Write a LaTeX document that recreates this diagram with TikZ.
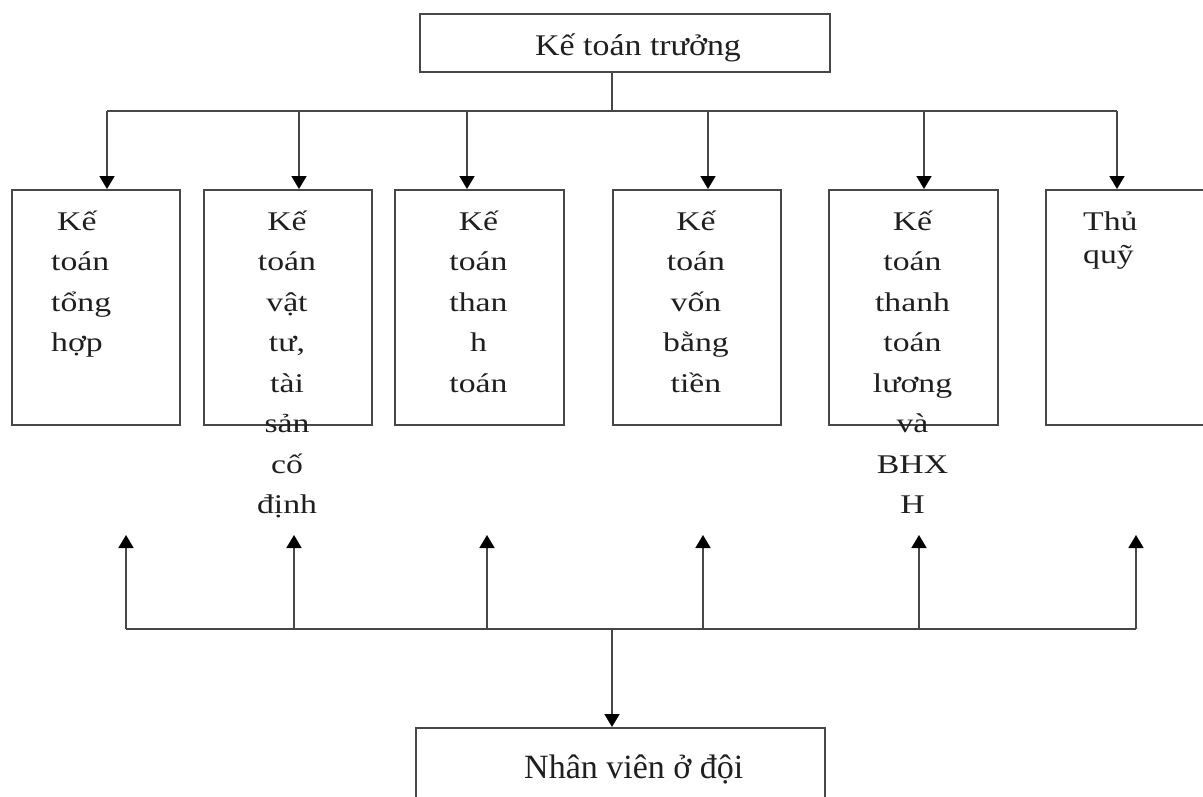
\documentclass[tikz,border=0pt]{standalone}
\usepackage{fontspec}
\setmainfont{Liberation Serif}
\newfontfamily\boxfont[FakeStretch=1.25]{Liberation Serif}
\newfontfamily\topfont[FakeStretch=1.13]{Liberation Serif}
\usetikzlibrary{arrows.meta}
\begin{document}
\begin{tikzpicture}[x=1pt,y=-1pt,
  line/.style={draw=black!72,line width=1.8pt},
  arr/.style={line,-{Triangle[width=15pt,length=13pt,color=black]}},
  box/.style={draw=black!72,line width=1.8pt,inner sep=0pt,anchor=north west,minimum height=235pt},
  boxtext/.style={inner sep=0pt,text=black!88,font=\boxfont\fontsize{27}{40.5}\selectfont}]
\useasboundingbox (0,0) rectangle (1203,796);
\clip (0,0) rectangle (1203,796);

% boxes
\node[box,minimum width=410pt,minimum height=58pt] (top) at (419,13) {};
\node[box,minimum width=168pt] (b1) at (11,189) {};
\node[box,minimum width=168pt] (b2) at (203,189) {};
\node[box,minimum width=169pt] (b3) at (394,189) {};
\node[box,minimum width=168pt] (b4) at (612,189) {};
\node[box,minimum width=169pt] (b5) at (828,189) {};
\node[box,minimum width=200pt] (b6) at (1045,189) {};
\node[box,minimum width=409pt,minimum height=120pt] (bot) at (415,727) {};

% texts
\node[anchor=base west,inner sep=0pt,text=black!88,font=\topfont\fontsize{30}{36}\selectfont] (toptext) at (535,55) {Kế toán trưởng};
\node[anchor=base west,inner sep=0pt,text=black!88,font=\fontsize{34}{40}\selectfont] (bottext) at (524,778) {Nhân viên ở đội};
\node[boxtext,anchor=north west,align=left] (x1) at (51,200) {\rule{0pt}{30pt}\hspace*{6pt}Kế\\toán\\tổng\\hợp};
\node[boxtext,anchor=north,align=center] (x2) at (287,200) {\rule{0pt}{30pt}Kế\\toán\\vật\\tư,\\tài\\sản\\cố\\định};
\node[boxtext,anchor=north,align=center] (x3) at (478.5,200) {\rule{0pt}{30pt}Kế\\toán\\than\\h\\toán};
\node[boxtext,anchor=north,align=center] (x4) at (696,200) {\rule{0pt}{30pt}Kế\\toán\\vốn\\bằng\\tiền};
\node[boxtext,anchor=north,align=center] (x5) at (912.5,200) {\rule{0pt}{30pt}Kế\\toán\\thanh\\toán\\lương\\và\\BHX\\H};
\node[boxtext,anchor=north west,align=left,font=\boxfont\fontsize{27}{33}\selectfont] (x6) at (1083,200) {\rule{0pt}{30pt}Thủ\\quỹ};

% top bus
\coordinate (tb) at (612,111);
\draw[line] (top.south -| tb) -- (tb);
\coordinate (t1) at (107,111);
\coordinate (t2) at (299,111);
\coordinate (t3) at (467,111);
\coordinate (t4) at (708,111);
\coordinate (t5) at (924,111);
\coordinate (t6) at (1117,111);
\draw[line] (t1) -- (t6);
\foreach \i in {1,...,6} {\draw[arr] (t\i) -- (t\i |- b\i.north);}

% bottom bus
\coordinate (u1) at (126,629);
\coordinate (u2) at (294,629);
\coordinate (u3) at (487,629);
\coordinate (u4) at (703,629);
\coordinate (u5) at (919,629);
\coordinate (u6) at (1136,629);
\coordinate (e1) at (126,535);
\coordinate (e2) at (294,535);
\coordinate (e3) at (487,535);
\coordinate (e4) at (703,535);
\coordinate (e5) at (919,535);
\coordinate (e6) at (1136,535);
\draw[line] (u1) -- (u6);
\foreach \i in {1,...,6} {\draw[arr] (u\i) -- (e\i);}
\coordinate (bb) at (612,629);
\draw[arr] (bb) -- (bb |- bot.north);
\end{tikzpicture}
\end{document}
